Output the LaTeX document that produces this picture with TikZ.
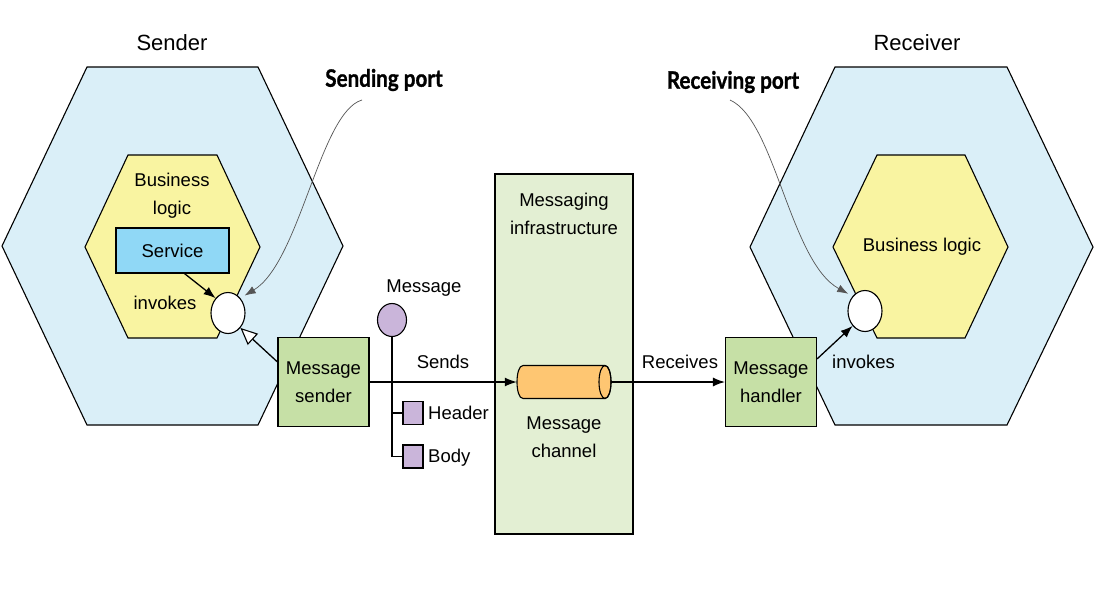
\documentclass[tikz,border=0pt]{standalone}
\usepackage{fontspec}
\usepackage{graphicx}
\setmainfont{Liberation Sans}
\newfontfamily\labfont[BoldFeatures={FakeBold=1.2}]{Lato}
\usetikzlibrary{arrows.meta,shapes.geometric,calc}
\definecolor{hexblue}{HTML}{DAEFF8}
\definecolor{hexyellow}{HTML}{F9F4A1}
\definecolor{svcblue}{HTML}{90D8F6}
\definecolor{boxgreen}{HTML}{C6E0A6}
\definecolor{infragreen}{HTML}{E3EFD3}
\definecolor{chanorange}{HTML}{FEC672}
\definecolor{msgpurple}{HTML}{CAB5DA}
\definecolor{curvegray}{HTML}{555555}
\tikzset{
  txt/.style={font=\fontsize{18.5}{28}\selectfont, align=center, inner sep=0pt},
  titletxt/.style={font=\fontsize{22}{26}\selectfont, inner sep=0pt},
  portlab/.style={font=\labfont\bfseries\fontsize{24}{26}\selectfont, inner sep=0pt},
  greenbox/.style={draw, line width=1.1pt, fill=boxgreen, minimum width=91pt, minimum height=89pt, inner sep=0pt, align=center, font=\fontsize{18.5}{28}\selectfont},
  portcirc/.style={draw, line width=1.1pt, fill=white, ellipse, minimum width=34pt, minimum height=41pt, inner sep=0pt},
  hexshape/.style={draw, line width=1.1pt},
  conn/.style={line width=1.3pt},
  filltip/.style={-{Latex[length=12pt,width=9pt]}},
  opentip/.style={-{Triangle[fill=white,length=17pt,width=15pt,line width=1.1pt]}},
  pointer/.style={draw=curvegray, line width=0.7pt, -{Latex[length=11pt,width=8pt]}, shorten >=5pt},
  msgpart/.style={draw, line width=1.1pt, fill=msgpurple, inner sep=0pt}
}
\begin{document}
\begin{tikzpicture}[x=1pt,y=-1pt]
\useasboundingbox (0,0) rectangle (1096,606);
\fill[white] (0,0) rectangle (1096,606);

% Sender hexagons
\draw[hexshape, fill=hexblue] (87,67) -- (258,67) -- (343,246) -- (258,425) -- (87,425) -- (2,246) -- cycle;
\draw[hexshape, fill=hexyellow] (128,155) -- (217,155) -- (260,247) -- (217,338) -- (128,338) -- (85,247) -- cycle;
% Receiver hexagons
\draw[hexshape, fill=hexblue] (835,67) -- (1007,67) -- (1093,247) -- (1007,425) -- (835,425) -- (750,247) -- cycle;
\draw[hexshape, fill=hexyellow] (877,155) -- (965,155) -- (1008,247) -- (965,338) -- (877,338) -- (833,247) -- cycle;

% titles
\node[titletxt] (sendertitle) at (172,43) {Sender};
\node[titletxt] (receivertitle) at (917,43) {Receiver};

% sender internals
\node[txt] (bl1) at (172,196) {Business\\logic};
\node[draw, line width=1.1pt, fill=svcblue, minimum width=113pt, minimum height=45pt, inner sep=0pt, font=\fontsize{18.5}{28}\selectfont] (svc) at (172.5,250.5) {Service};
\node[txt] (inv1) at (165,303) {invokes};
\node[portcirc] (lport) at (228,313) {};
\node[greenbox] (sender) at (323.5,382) {Message\\sender};

% receiver internals
\node[txt] (bl2) at (922,247) {Business logic};
\node[portcirc] (rport) at (865,311) {};
\node[greenbox] (handler) at (771,382) {Message\\handler};
\node[txt, anchor=west] (inv2) at (832,362) {invokes};

% infrastructure
\node[draw, line width=1.1pt, fill=infragreen, minimum width=138pt, minimum height=360pt, inner sep=0pt] (infra) at (564,354) {};
\node[txt] (infralab) at (564,214) {Messaging\\infrastructure};
\node[minimum width=94pt, minimum height=33pt, inner sep=0pt] (chan) at (564,382) {};
\draw[line width=1.1pt, fill=chanorange] (523,365.5) -- (605,365.5) .. controls (613,365.5) and (613,398.5) .. (605,398.5) -- (523,398.5) .. controls (515,398.5) and (515,365.5) .. (523,365.5) -- cycle;
\draw[line width=1.1pt] (605,382) ellipse [x radius=6, y radius=16.5];
\node[txt] (chanlab) at (564,437.5) {Message\\channel};

% message
\node[msgpart, ellipse, minimum width=29pt, minimum height=33pt] (msg) at (392,320) {};
\node[txt] (msglab) at (424,288) {Message};
\node[msgpart, minimum width=20pt, minimum height=23pt] (hdr) at (413,413) {};
\node[msgpart, minimum width=20pt, minimum height=23pt] (body) at (413,456.5) {};
\node[txt, anchor=west] (hdrlab) at (428,413) {Header};
\node[txt, anchor=west] (bodylab) at (428,458) {Body};
\draw[conn] (msg.south) |- (hdr.west);
\draw[conn] (msg.south) |- (body.west);

% sends / receives
\draw[conn, filltip] (sender.east) -- (chan.west);
\node[txt] (sends) at (443,362) {Sends};
\draw[conn, filltip] (chan.east) -- (handler.west);
\node[txt] (receives) at (680,362) {Receives};

% invokes arrows
\draw[conn, filltip] ($(svc.south)+(12,0)$) -- (lport.north west);
\draw[conn, opentip] ($(sender.north west)+(0,25)$) -- (lport.south east);
\draw[conn, filltip] ($(handler.north east)+(0,22)$) -- (rport.south west);

% port labels
\node[portlab] (sp) at (384,80) {\scalebox{0.86}[1]{Sending port}};
\node[portlab] (rp) at (733,82) {\scalebox{0.86}[1]{Receiving port}};
\coordinate (spstart) at (362,100);
\coordinate (rpstart) at (730,100);
\draw[pointer] (spstart) .. controls (320,112) and (300,262) .. (lport.north east);
\draw[pointer] (rpstart) .. controls (775,120) and (790,262) .. (rport.north west);
\end{tikzpicture}
\end{document}
